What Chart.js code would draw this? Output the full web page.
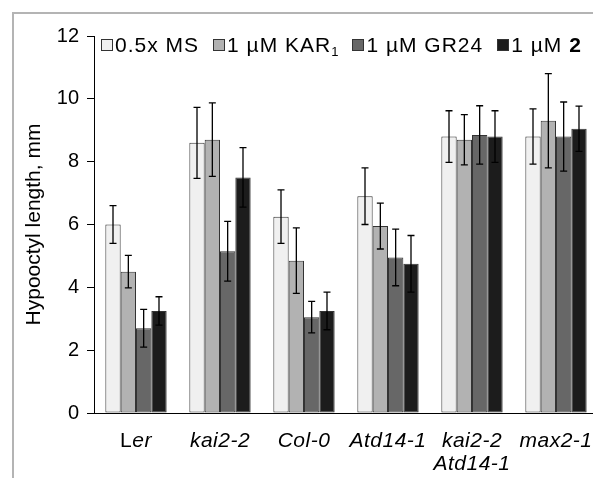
<!DOCTYPE html>
<html>
<head>
<meta charset="utf-8">
<script src="https://cdn.jsdelivr.net/npm/chart.js@4.4.1/dist/chart.umd.min.js"></script>
<style>
  html, body { margin: 0; padding: 0; background: #fff; overflow: hidden; width: 593px; height: 478px; }
  #frame { position: absolute; left: 12px; top: 12px; width: 700px; height: 600px;
           border-left: 2px solid #b4b4b4; border-top: 2px solid #b4b4b4; }
  #wrap { position: absolute; left: 0; top: 0; width: 610px; height: 478px; }
  #legend { position: absolute; top: 33px; left: 101px; display: flex; gap: 14px;
            font: 21px "Liberation Sans", Arial, sans-serif; letter-spacing: 1px; white-space: nowrap; color: #000; }
  .item { display: flex; align-items: center; }
  .box { width: 10px; height: 10px; border: 1px solid #333; margin-right: 2px; }
  sub { font-size: 13px; vertical-align: -4px; line-height: 0; letter-spacing: 0; }
</style>
</head>
<body>
<div id="frame"></div>
<div id="wrap"><canvas id="hypocotylChart" width="610" height="478"></canvas></div>
<div id="legend"></div>
<script>
// categories (lines), first n characters of a line drawn upright
const categories = [["Ler"], ["kai2-2"], ["Col-0"], ["Atd14-1"], ["kai2-2", "Atd14-1"], ["max2-1"]];
const uprightChars = { Ler: 1 };

const seriesNames = ["0.5x MS", "1 µM KAR<sub>1</sub>", "1 µM GR24", "1 µM <b>2</b>"];
const seriesColors = ["#f0f0f0", "#b2b2b2", "#676767", "#1c1c1c"];

const msValues = [6.0, 8.6, 6.25, 6.9, 8.8, 8.8];
const karValues = [4.5, 8.7, 4.85, 5.95, 8.7, 9.3];
const gr24Values = [2.7, 5.15, 3.05, 4.95, 8.85, 8.8];
const cmpd2Values = [3.25, 7.5, 3.25, 4.75, 8.8, 9.05];

const msErrors = [0.6, 1.13, 0.85, 0.9, 0.82, 0.88];
const karErrors = [0.52, 1.17, 1.04, 0.73, 0.8, 1.5];
const gr24Errors = [0.6, 0.95, 0.5, 0.9, 0.93, 1.1];
const cmpd2Errors = [0.45, 0.95, 0.6, 0.9, 0.82, 0.72];

const yTicks = [0, 2, 4, 6, 8, 10, 12];

const allValues = [msValues, karValues, gr24Values, cmpd2Values];
const allErrors = [msErrors, karErrors, gr24Errors, cmpd2Errors];

// html legend (needs subscript and bold)
const legendEl = document.getElementById("legend");
seriesNames.forEach((name, i) => {
  const item = document.createElement("div");
  item.className = "item";
  item.innerHTML = '<span class="box" style="background:' + seriesColors[i] + '"></span><span>' + name + "</span>";
  legendEl.appendChild(item);
});

const errorBars = {
  id: "errorBars",
  afterDatasetsDraw(chart) {
    const ctx = chart.ctx;
    const y = chart.scales.y;
    ctx.save();
    ctx.strokeStyle = "#000";
    ctx.lineWidth = 1.3;
    chart.data.datasets.forEach((ds, di) => {
      const meta = chart.getDatasetMeta(di);
      meta.data.forEach((bar, i) => {
        const v = ds.data[i];
        const e = allErrors[di][i];
        const top = y.getPixelForValue(v + e);
        const bot = y.getPixelForValue(v - e);
        ctx.beginPath();
        ctx.moveTo(bar.x, top); ctx.lineTo(bar.x, bot);
        ctx.moveTo(bar.x - 3.5, top); ctx.lineTo(bar.x + 3.5, top);
        ctx.moveTo(bar.x - 3.5, bot); ctx.lineTo(bar.x + 3.5, bot);
        ctx.stroke();
      });
    });
    ctx.restore();
  },
};

// x labels drawn by hand: "Ler" has an upright L
const xLabels = {
  id: "xLabels",
  afterDraw(chart) {
    const ctx = chart.ctx;
    const x = chart.scales.x;
    const base = chart.chartArea.bottom;
    ctx.save();
    ctx.fillStyle = "#000";
    ctx.textBaseline = "alphabetic";
    ctx.letterSpacing = "0.5px";
    const fontUp = '21px "Liberation Sans", Arial, sans-serif';
    const fontIt = 'italic 21px "Liberation Sans", Arial, sans-serif';
    categories.forEach((lines, i) => {
      const cx = x.getPixelForValue(i);
      lines.forEach((line, li) => {
        const n = uprightChars[line] || 0;
        const a = line.slice(0, n), b = line.slice(n);
        ctx.font = fontUp; const wa = ctx.measureText(a).width;
        ctx.font = fontIt; const wb = ctx.measureText(b).width;
        let sx = cx - (wa + wb) / 2;
        const by = base + 34 + li * 23;
        ctx.font = fontUp; ctx.fillText(a, sx, by);
        ctx.font = fontIt; ctx.fillText(b, sx + wa, by);
      });
    });
    ctx.restore();
  },
};

new Chart(document.getElementById("hypocotylChart"), {
  type: "bar",
  data: {
    labels: categories.map((c) => c.join(" ")),
    datasets: allValues.map((vals, i) => ({
      label: seriesNames[i],
      data: vals,
      backgroundColor: seriesColors[i],
      borderColor: "#333",
      borderWidth: 1,
      borderSkipped: false,
      categoryPercentage: 0.73,
      barPercentage: 1.0,
    })),
  },
  options: {
    responsive: false,
    animation: false,
    layout: { padding: { left: 14, right: 12, top: 36, bottom: 57 } },
    plugins: { legend: { display: false }, tooltip: { enabled: false } },
    scales: {
      x: {
        ticks: { display: false },
        grid: { display: false },
        border: { display: true, color: "#000", width: 1 },
      },
      y: {
        min: 0,
        max: 12,
        afterBuildTicks: (scale) => { scale.ticks = yTicks.map((v) => ({ value: v })); },
        afterFit: (scale) => { scale.width = 80; },
        ticks: { color: "#000", padding: 8, font: { size: 20, family: '"Liberation Sans", Arial, sans-serif' } },
        grid: { drawOnChartArea: false, tickLength: 7, color: "#000" },
        border: { display: true, color: "#000", width: 1 },
        title: {
          display: true,
          text: "Hypooctyl length, mm",
          color: "#000",
          padding: { top: 8, bottom: 0 },
          font: { size: 21, family: '"Liberation Sans", Arial, sans-serif' },
        },
      },
    },
  },
  plugins: [errorBars, xLabels],
});
</script>
</body>
</html>
